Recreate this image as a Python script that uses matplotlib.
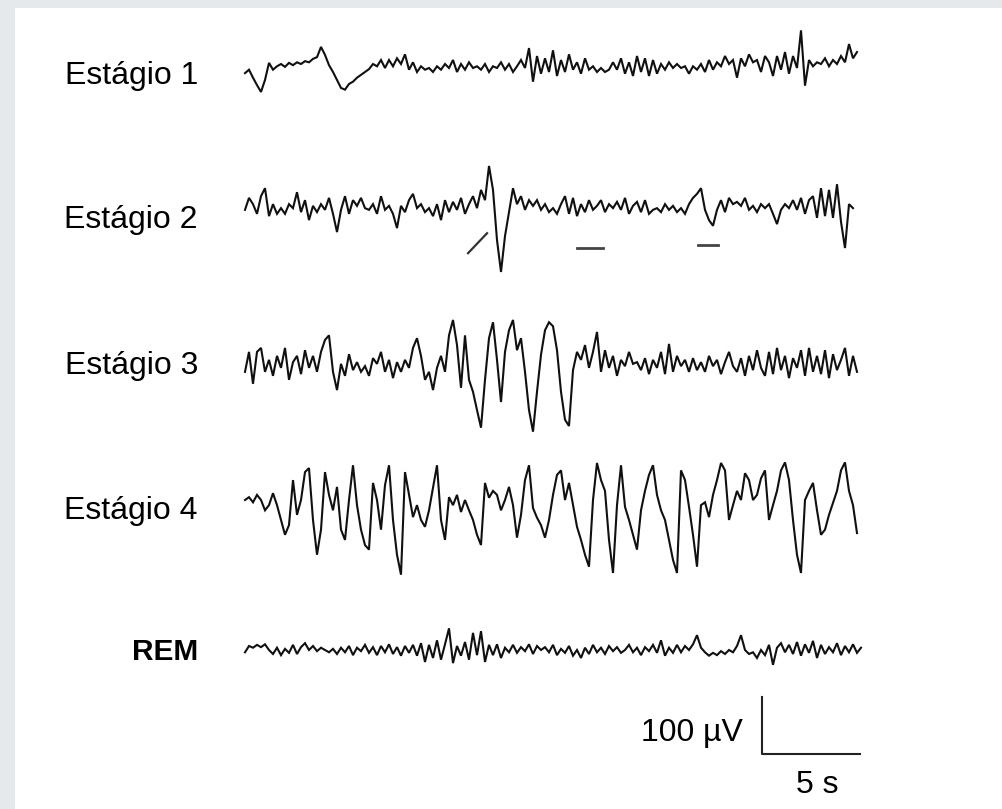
import numpy as np
import matplotlib.pyplot as plt
from matplotlib.patches import Rectangle

plt.rcParams['font.family'] = ['Liberation Sans', 'DejaVu Sans']

### DATA (uV, one sample every ~0.2 s)
labels = ['Estágio 1', 'Estágio 2', 'Estágio 3', 'Estágio 4', 'REM']

stage1 = [-9, -3, -17, -30, -42, -21, 9, -3, 3, 7, 2, 9, 5, 10, 7, 12, 10, 16, 19,
          37, 23, 5, -7, -21, -35, -38, -28, -24, -17, -12, -7, -2, 7, 3, 14, 0, 14, 3,
          17, 7, 24, -3, 10, -7, 3, -3, 0, -7, 3, -3, 7, 0, 14, -7, 7, -3, 10, 0, 3, -3,
          7, -7, 3, 0, 10, -3, 7, -7, 3, 14, 0, 35, -24, 21, -10, 17, -7, 31, -14, 14,
          -7, 24, -3, 10, -10, 17, -3, 3, -7, 0, -7, -3, 10, -3, 17, -10, 10, -14, 21,
          -7, 17, -14, 14, -10, 7, -3, 10, 0, 7, 0, 3, -10, 3, -3, 7, -7, 14, -3, 10, 3,
          21, 7, 14, -17, 17, 3, 24, 10, 14, -7, 21, 10, -14, 21, -3, 28, -10, 21, 0,
          66, -31, 14, 3, 10, 7, 17, 3, 14, 7, 21, 10, 42, 17, 28]

stage2 = [-5, 16, 5, -12, 19, 33, -16, 5, -12, -2, -12, 5, -2, 26, -9, 12, -23, 2, -9,
          5, -5, 16, -12, -44, -5, 19, -12, 12, 2, 16, -2, -5, 5, -12, 19, -5, 2, -12,
          -37, 2, -9, 12, 23, -2, 5, -9, -2, -16, 5, -23, 12, -9, 9, -5, 16, -12, 5, 19,
          -2, 30, 12, 72, 30, -58, -114, -51, -9, 33, 5, 19, -5, 12, 2, 12, -5, 5, -9,
          -2, -12, 5, 19, -12, 16, -16, 5, -9, 12, -5, 2, 12, -9, 5, -2, 9, -5, 16, -12,
          2, 9, -9, 12, -12, -5, -2, -9, 5, -5, 2, -9, -2, -12, 5, 16, 23, 33, -5, -23,
          -33, -5, 12, -9, 16, 5, 9, 2, 16, -5, 2, -9, 5, -2, 5, -12, -30, -5, 5, -2, 12,
          -5, 16, -12, 12, 19, -19, 33, -16, 30, -19, 40, -26, -72, 5, -2]

stage3 = [-12, 23, -33, 23, 30, -12, 9, -19, 16, -5, 30, -26, 5, 16, -16, 26, -5, 16,
          -12, 23, 44, 52, -12, -44, 2, -19, 19, -9, 5, -12, -2, -19, 12, 2, 23, -12, 9,
          -23, 5, -12, 9, -5, 30, 47, 16, -26, -12, -44, -5, 16, -12, 52, 79, 35, -40,
          52, -26, -47, -79, -110, -26, 47, 75, 9, -65, 23, 61, 79, 26, 47, -12, -79,
          -117, -47, 18, 61, 75, 68, 26, -47, -96, -107, -9, 23, 9, 35, -5, 23, 58, -12,
          26, -5, 16, -19, 9, -2, 23, 2, 5, -9, 12, -16, 9, -5, 23, -16, 37, -12, 16, -2,
          9, -12, 12, -9, 5, -12, 16, -2, 9, -16, 5, 23, -2, -12, 12, -19, 16, -9, 26,
          -5, -19, 23, -16, 30, -9, 16, -23, 12, -5, 26, -19, 30, -12, 16, -16, 26, -23,
          19, -9, 9, 30, -19, 16, -12]

stage4 = [14, 19, 10, 23, 14, -4, 5, 26, 5, -21, -47, -30, 49, -12, 14, 63, 70, -21,
          -82, -38, 63, 23, -4, 37, -38, -56, 14, 75, 5, -38, -65, -73, 44, 14, -38, 40,
          75, -21, -82, -117, 63, 23, -16, 5, -21, -33, -4, 35, 75, -21, -56, 19, 5, 23,
          -7, 14, -4, -21, -47, -65, 44, 18, 30, 23, -4, 14, 37, 5, -52, -12, 49, 75, 0,
          -17, -30, -52, -21, 23, 58, 66, 14, 44, 5, -33, -56, -82, -103, 14, 79, 49, 30,
          -56, -114, 5, 75, 2, -21, -47, -73, -4, 30, 58, 75, 23, -4, -21, -56, -91,
          -114, 66, 49, 2, -47, -103, 5, 10, -16, 23, 49, 79, 66, -21, 5, 30, 14, 61, 49,
          14, 23, 52, 66, -21, 5, 30, 66, 80, 49, -21, -82, -114, 14, 30, 44, -4, -47,
          -38, -12, 9, 30, 66, 80, 30, 5, -44]

rem = [-4, 7, 4, 9, 5, 10, 0, -7, 4, -9, 2, -5, 9, -7, 5, 12, 0, 7, -2, 4, 0, -4, 2,
       -7, 4, -4, 7, -9, 4, -2, 9, -5, 5, -9, 7, -4, 10, -7, 5, -10, 7, -5, 9, -10, 12,
       -21, 9, -14, 17, -17, 10, 38, -23, 7, -10, 14, -17, 30, -9, 33, -21, 9, -9, 10,
       -14, 4, -4, 9, -5, 5, -2, 10, -7, 7, 0, 5, -4, 9, -9, 2, -5, 7, -10, 0, -14, 4,
       -7, 9, -4, 4, -7, 7, -2, 5, -5, 0, 9, -4, 4, -9, 5, -2, 9, -5, 17, -10, 4, -5, 9,
       -4, 7, 0, 10, 26, 4, -4, -10, -5, -9, -2, -7, 0, -4, 7, 26, 0, -7, -4, -14, 0, -9,
       9, -26, 4, 12, -4, 9, -7, 14, -10, 10, -5, 16, -14, 9, -7, 5, -4, 12, -9, 7, -4,
       10, -5, 4]

traces = [stage1, stage2, stage3, stage4, rem]

# stage 2 markings: spindle bars (start s, end s, level uV) and K-complex tick
spindle_bars = [(16.94, 18.27, -72), (23.11, 24.13, -67)]
kcomplex_tick = ([11.38, 12.35], [-81, -46])

scale_t, scale_uv = 5, 100

### LAYOUT
PX_PER_S = 19.6
UV_PER_PX = 100 / 57
dt = 4 / PX_PER_S
baseline_px = [68, 207, 365, 508, 650]
label_px = [76, 220, 366, 511, 652]
offsets = [-p * UV_PER_PX for p in baseline_px]

fig = plt.figure(figsize=(10.03, 8.09), dpi=100)
fig.patch.set_facecolor('#e6e9ec')
fig.patches.append(Rectangle((15 / 1003, 0), 1, 1 - 8 / 809, transform=fig.transFigure,
                             facecolor='white', edgecolor='none', zorder=-1))
ax = fig.add_axes([0, 0, 1, 1])
ax.set_facecolor('none')
ax.set_xlim(-245 / PX_PER_S, (1003 - 245) / PX_PER_S)
ax.set_ylim(-809 * UV_PER_PX, 0)
ax.axis('off')

label_x = (198 - 245) / PX_PER_S
for name, trace, off, lp in zip(labels, traces, offsets, label_px):
    t = np.arange(len(trace)) * dt
    ax.plot(t, np.array(trace) + off, color='#101010', lw=1.5, solid_joinstyle='miter')
    ax.text(label_x, -lp * UV_PER_PX, name, ha='right', va='center',
            fontsize=21.5 if name == 'REM' else 23, color='#000000',
            fontweight='bold' if name == 'REM' else 'normal')

# stage 2 marks
for t0, t1, lvl in spindle_bars:
    ax.plot([t0, t1], [offsets[1] + lvl] * 2, color='#444444', lw=2)
ax.plot(kcomplex_tick[0], np.array(kcomplex_tick[1]) + offsets[1], color='#333333', lw=1.6)

# scale bar
sx = (762 - 245) / PX_PER_S
sy = -754 * UV_PER_PX
ax.plot([sx, sx, sx + scale_t], [sy + scale_uv, sy, sy], color='#222222', lw=1.5)
ax.text(sx - 1.0, sy + scale_uv * 0.37, '100 µV', ha='right', va='center',
        fontsize=23, color='#000000')
ax.text(sx + scale_t / 2 + 0.3, sy - 31 * UV_PER_PX, '5 s', ha='center', va='center',
        fontsize=23, color='#000000')

plt.savefig('out.png', dpi=100, facecolor=fig.get_facecolor())
